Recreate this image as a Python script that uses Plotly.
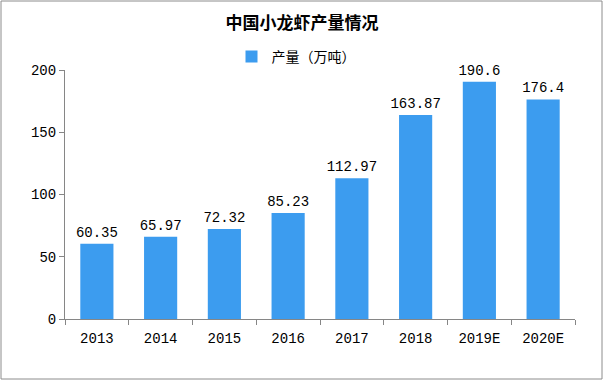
import plotly.graph_objects as go

years = ["2013", "2014", "2015", "2016", "2017", "2018", "2019E", "2020E"]
output = [60.35, 65.97, 72.32, 85.23, 112.97, 163.87, 190.6, 176.4]
labels = ["60.35", "65.97", "72.32", "85.23", "112.97", "163.87", "190.6", "176.4"]
y_ticks = [0, 50, 100, 150, 200]

font_num = "Liberation Mono, DejaVu Sans Mono, monospace"
font_cjk = "Noto Sans CJK SC, sans-serif"

fig = go.Figure()
fig.add_trace(go.Bar(
    x=years, y=output, name="产量（万吨）",
    marker=dict(color="#3C9CEF", line=dict(width=0)),
    text=labels, textposition="outside", cliponaxis=False,
    textangle=0, constraintext="none",
    textfont=dict(family=font_num, size=14, color="#000000"),
))

fig.update_layout(
    width=604, height=381,
    margin=dict(l=65, r=29, t=70, b=62),
    paper_bgcolor="white", plot_bgcolor="white",
    bargap=0.48,
    title=dict(text="<b>中国小龙虾产量情况</b>", x=0.5, xanchor="center",
               y=1 - 23 / 381, yanchor="middle",
               font=dict(family=font_cjk, size=17, color="#000000")),
    showlegend=True,
    legend=dict(orientation="h", x=(296 - 65) / 510, xanchor="center", y=1 + 13 / 249, yanchor="middle",
                font=dict(family=font_cjk, size=14, color="#000000"),
                itemwidth=30, bgcolor="rgba(0,0,0,0)"),
    shapes=[dict(type="rect", xref="paper", yref="paper",
                 x0=-64 / 510, x1=1 + 27 / 510, y0=-60 / 249, y1=1 + 69 / 249,
                 line=dict(color="#8c8c8c", width=1), fillcolor="rgba(0,0,0,0)", layer="below")],
)

fig.update_xaxes(
    type="category", showline=True, linecolor="#868686", linewidth=1,
    ticks="outside", tickson="boundaries", ticklen=5, tickcolor="#868686",
    ticklabelstandoff=6,
    tickfont=dict(family=font_num, size=14, color="#000000"),
    showgrid=False, zeroline=False,
)
fig.update_yaxes(
    range=[0, 200], tickvals=y_ticks, showline=True, linecolor="#868686", linewidth=1,
    ticks="outside", ticklen=5, tickcolor="#868686",
    tickfont=dict(family=font_num, size=14, color="#000000"),
    showgrid=False, zeroline=False,
)

fig.write_html("out.html", config={"displayModeBar": False},
               post_script="document.body.style.margin='0';document.body.style.overflow='hidden';")
